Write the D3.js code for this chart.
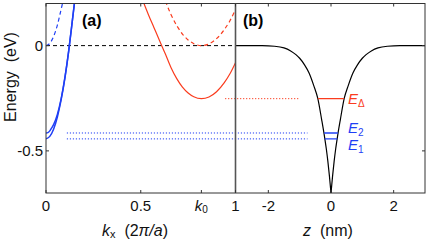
<!DOCTYPE html>
<html><head><meta charset="utf-8">
<script src="https://cdn.jsdelivr.net/npm/d3@7"></script>
<style>body{margin:0;background:#fff}svg{display:block;font-family:"Liberation Sans",Arial,sans-serif}</style>
</head><body><svg id="c" width="430" height="240"></svg>
<script>
// ---- data ----
const kTicks = [0, 0.5, 0.82, 1];
const kTickLabels = ["0", "0.5", "k0", "1"];
const zTicks = [-2, 0, 2];
const zTickLabels = ["-2", "0", "2"];
const eTicks = [0, -0.5];
const eTickLabels = ["0", "-0.5"];

const blueDashK = [0, 0.02, 0.04, 0.06, 0.08, 0.087];
const blueDashE = [0, 0.011, 0.043, 0.097, 0.173, 0.2];
const e1K = [0, 0.02, 0.04, 0.06, 0.08, 0.10, 0.12, 0.14, 0.15];
const e1E = [-0.443, -0.431, -0.397, -0.339, -0.257, -0.153, -0.025, 0.125, 0.2];
const e2K = [0, 0.01, 0.02, 0.03, 0.04, 0.06, 0.08, 0.10, 0.12, 0.14, 0.15];
const e2E = [-0.415, -0.413, -0.405, -0.391, -0.375, -0.327, -0.252, -0.150, -0.023, 0.127, 0.202];
const redK = [0.517, 0.54, 0.57, 0.60, 0.63, 0.66, 0.69, 0.72, 0.75, 0.78, 0.82, 0.86, 0.90, 0.94, 0.97, 1.0];
const redE = [0.2, 0.148, 0.085, 0.022, -0.04, -0.105, -0.157, -0.197, -0.225, -0.243, -0.252, -0.244, -0.219, -0.177, -0.135, -0.081];
const redDashK = [0.63, 0.66, 0.69, 0.72, 0.75, 0.78, 0.82, 0.86, 0.90, 0.94, 0.97, 1.0];
const redDashE = [0.212, 0.147, 0.095, 0.055, 0.027, 0.009, 0, 0.008, 0.033, 0.075, 0.117, 0.171];

const wellZ = [-3.1, -2.2, -1.8, -1.5, -1.3, -1.12, -1.0, -0.85, -0.7, -0.55, -0.42, -0.3, -0.22, -0.15, -0.1, -0.05, 0,
               0.05, 0.1, 0.15, 0.22, 0.3, 0.42, 0.55, 0.7, 0.85, 1.0, 1.12, 1.3, 1.5, 1.8, 2.2, 3.1];
const wellV = [0, 0, -0.003, -0.011, -0.024, -0.043, -0.06, -0.09, -0.13, -0.19, -0.252, -0.35, -0.42, -0.49, -0.55, -0.62, -0.70,
               -0.62, -0.55, -0.49, -0.42, -0.35, -0.252, -0.19, -0.13, -0.09, -0.06, -0.043, -0.024, -0.011, -0.003, 0, 0];

const levelNames = ["Δ", "2", "1"];
const levelE = [-0.252, -0.415, -0.443];
const levelHalfZ = [0.42, 0.22, 0.20];
const dotStartK = [0.945, 0.11, 0.11];
const dotEndZ = [-1.0, -0.75, -0.75];

// ---- layout ----
const BLUE = "#1f3ff5", RED = "#fa3c1e";
const svg = d3.select("#c");
const yE = d3.scaleLinear().domain([-0.7, 0.2]).range([193, 3.5]);
const xA = d3.scaleLinear().domain([0, 1]).range([46, 235.5]);
const xB = d3.scaleLinear().domain([-3, 3]).range([237, 425]);
const defs = svg.append("defs");
defs.append("clipPath").attr("id", "ca").append("rect").attr("x", 46).attr("y", 3.5).attr("width", 189.5).attr("height", 189.5);
defs.append("clipPath").attr("id", "cb").append("rect").attr("x", 235.5).attr("y", 3.5).attr("width", 189.5).attr("height", 189.5);

const gA = svg.append("g").attr("clip-path", "url(#ca)");
const gB = svg.append("g").attr("clip-path", "url(#cb)");
const lineA = d3.line().x(d => xA(d[0])).y(d => yE(d[1])).curve(d3.curveMonotoneX);
const lineB = d3.line().x(d => xB(d[0])).y(d => yE(d[1])).curve(d3.curveMonotoneX);
const zip = (a, b) => a.map((v, i) => [v, b[i]]);

// zero dashed line in (a)
gA.append("line").attr("x1", xA(0)).attr("x2", xA(1)).attr("y1", yE(0)).attr("y2", yE(0))
  .attr("stroke", "#000").attr("stroke-width", 1).attr("stroke-dasharray", "4,3");

gA.append("path").attr("d", lineA(zip(blueDashK, blueDashE))).attr("fill", "none").attr("stroke", BLUE).attr("stroke-width", 1.2).attr("stroke-dasharray", "4,3");
gA.append("path").attr("d", lineA(zip(e1K, e1E))).attr("fill", "none").attr("stroke", BLUE).attr("stroke-width", 1.5);
gA.append("path").attr("d", lineA(zip(e2K, e2E))).attr("fill", "none").attr("stroke", BLUE).attr("stroke-width", 1.5);
gA.append("path").attr("d", lineA(zip(redK, redE))).attr("fill", "none").attr("stroke", RED).attr("stroke-width", 1.2);
gA.append("path").attr("d", lineA(zip(redDashK, redDashE))).attr("fill", "none").attr("stroke", RED).attr("stroke-width", 1.2).attr("stroke-dasharray", "4,3");

// well (two monotone halves to keep the cusp)
const well = zip(wellZ, wellV);
gB.append("path").attr("d", lineB(well.filter(d => d[0] <= 0))).attr("fill", "none").attr("stroke", "#000").attr("stroke-width", 1.2);
gB.append("path").attr("d", lineB(well.filter(d => d[0] >= 0))).attr("fill", "none").attr("stroke", "#000").attr("stroke-width", 1.2);

// dotted connectors and levels
levelE.forEach((e, i) => {
  const col = i === 0 ? RED : BLUE;
  svg.append("line").attr("x1", xA(dotStartK[i])).attr("x2", xB(dotEndZ[i])).attr("y1", yE(e)).attr("y2", yE(e))
    .attr("stroke", col).attr("stroke-width", 1).attr("stroke-dasharray", "1.2,1.8");
  gB.append("line").attr("x1", xB(-levelHalfZ[i])).attr("x2", xB(levelHalfZ[i])).attr("y1", yE(e)).attr("y2", yE(e))
    .attr("stroke", col).attr("stroke-width", 1.4);
});
const lblY = [yE(levelE[0]) + 5, 133, 150];
levelNames.forEach((n, i) => {
  const t = svg.append("text").attr("x", 348).attr("y", lblY[i]).attr("fill", i === 0 ? RED : BLUE).attr("font-size", 15);
  t.append("tspan").attr("font-style", "italic").text("E");
  t.append("tspan").attr("font-size", 10).attr("dy", 3).text(n);
});

// frames
const frame = svg.append("g").attr("fill", "none").attr("stroke", "#333");
frame.append("rect").attr("x", 46).attr("y", 3.5).attr("width", 379).attr("height", 189.5).attr("stroke-width", 1);
frame.append("line").attr("x1", 235.5).attr("x2", 235.5).attr("y1", 3.5).attr("y2", 193).attr("stroke", "#555").attr("stroke-width", 1.6);

// ticks (inward)
const tk = svg.append("g").attr("stroke", "#333").attr("stroke-width", 1);
kTicks.forEach(k => {
  tk.append("line").attr("x1", xA(k)).attr("x2", xA(k)).attr("y1", 193).attr("y2", 190);
  tk.append("line").attr("x1", xA(k)).attr("x2", xA(k)).attr("y1", 3.5).attr("y2", 6.5);
});
zTicks.forEach(z => {
  tk.append("line").attr("x1", xB(z)).attr("x2", xB(z)).attr("y1", 193).attr("y2", 190);
  tk.append("line").attr("x1", xB(z)).attr("x2", xB(z)).attr("y1", 3.5).attr("y2", 6.5);
});
eTicks.forEach(e => {
  tk.append("line").attr("x1", 46).attr("x2", 49).attr("y1", yE(e)).attr("y2", yE(e));
  tk.append("line").attr("x1", 425).attr("x2", 422).attr("y1", yE(e)).attr("y2", yE(e));
});

// tick labels
const tl = svg.append("g").attr("font-size", 15).attr("fill", "#111");
kTicks.forEach((k, i) => {
  const t = tl.append("text").attr("x", xA(k)).attr("y", 211).attr("text-anchor", "middle");
  if (kTickLabels[i] === "k0") {
    t.append("tspan").attr("font-style", "italic").text("k");
    t.append("tspan").attr("font-size", 10).attr("dy", 2).text("0");
  } else t.text(kTickLabels[i]);
});
zTicks.forEach((z, i) => tl.append("text").attr("x", xB(z)).attr("y", 211).attr("text-anchor", "middle").text(zTickLabels[i]));
eTicks.forEach((e, i) => tl.append("text").attr("x", 43).attr("y", yE(e) + 5.5).attr("text-anchor", "end").text(eTickLabels[i]));

// axis titles
const xt = svg.append("text").attr("x", 135).attr("y", 236).attr("text-anchor", "middle").attr("font-size", 16).attr("fill", "#111").style("white-space", "pre");
xt.append("tspan").attr("font-style", "italic").text("k");
xt.append("tspan").attr("font-size", 11).attr("dy", 2).text("x");
xt.append("tspan").attr("dy", -2).text("  (2");
xt.append("tspan").attr("font-style", "italic").text("π/a");
xt.append("tspan").text(")");
const zt = svg.append("text").attr("x", 328).attr("y", 236).attr("text-anchor", "middle").attr("font-size", 16).attr("fill", "#111").style("white-space", "pre");
zt.append("tspan").attr("font-style", "italic").text("z");
zt.append("tspan").text("  (nm)");
svg.append("text").attr("transform", "translate(16,77) rotate(-90)").attr("text-anchor", "middle").attr("font-size", 16).attr("fill", "#111").style("white-space", "pre").text("Energy  (eV)");

// panel labels
svg.append("text").attr("x", 82).attr("y", 26).attr("font-size", 16).attr("font-weight", "bold").text("(a)");
svg.append("text").attr("x", 243).attr("y", 26).attr("font-size", 16).attr("font-weight", "bold").text("(b)");
</script></body></html>
